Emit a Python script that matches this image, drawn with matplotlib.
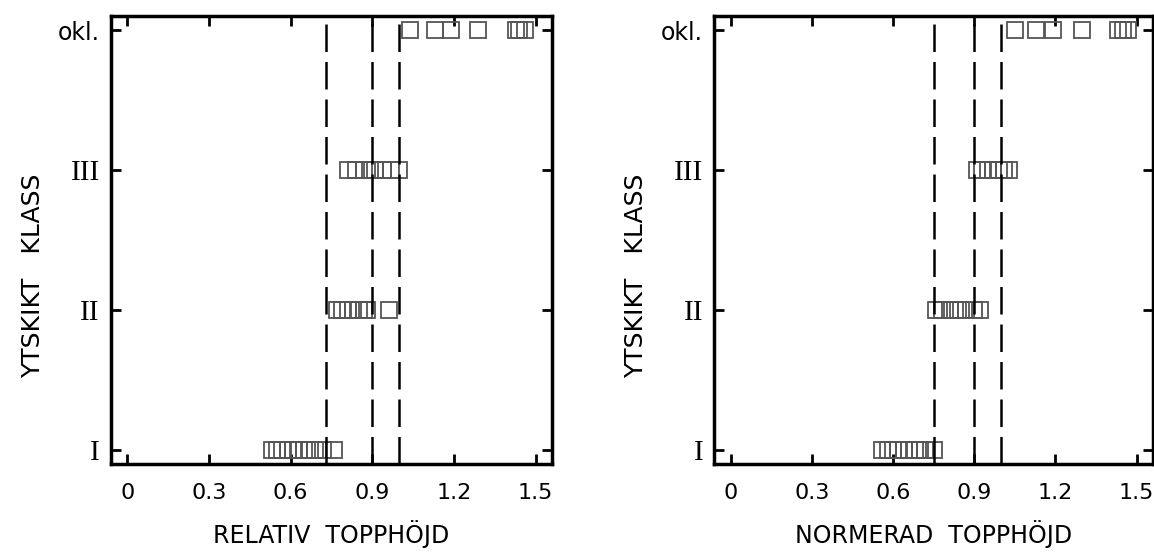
import matplotlib.pyplot as plt

# ── DATA ──────────────────────────────────────────────────────────────────────
klass_labels = ['I', 'II', 'III', 'okl.']

# relativ topphöjd per ytskiktklass
rel_I = [0.53, 0.55, 0.57, 0.59, 0.61, 0.63, 0.65, 0.67, 0.69, 0.72, 0.76]
rel_II = [0.77, 0.79, 0.81, 0.83, 0.85, 0.87, 0.88, 0.96]
rel_III = [0.81, 0.84, 0.87, 0.89, 0.91, 0.94, 0.97, 1.00]
rel_okl = [1.04, 1.13, 1.19, 1.29, 1.43, 1.44, 1.46]
rel_lines = [0.73, 0.90, 1.00]

# normerad topphöjd per ytskiktklass
norm_I = [0.56, 0.58, 0.60, 0.62, 0.64, 0.66, 0.68, 0.70, 0.72, 0.75]
norm_II = [0.76, 0.78, 0.81, 0.83, 0.85, 0.87, 0.90, 0.92]
norm_III = [0.91, 0.93, 0.95, 0.97, 0.99, 1.01, 1.03]
norm_okl = [1.05, 1.13, 1.19, 1.30, 1.43, 1.45, 1.47]
norm_lines = [0.75, 0.90, 1.00]

xticks = [0, 0.3, 0.6, 0.9, 1.2, 1.5]
xtick_labels = ['0', '0.3', '0.6', '0.9', '1.2', '1.5']

plt.rcParams['font.family'] = ['DejaVu Sans']

fig = plt.figure(figsize=(11.54, 5.55), dpi=100)
ax1 = fig.add_axes([0.0962, 0.164, 0.382, 0.807])
ax2 = fig.add_axes([0.619, 0.164, 0.38, 0.807])


def panel(ax, groups, lines, xlabel):
    for lvl, vals in enumerate(groups):
        ax.plot(vals, [lvl] * len(vals), linestyle='none', marker='s',
                markersize=11.5, markerfacecolor='none',
                markeredgecolor='#555555', markeredgewidth=1.3)
    for v in lines:
        ax.axvline(v, color='black', lw=1.8, dashes=(11, 4))
    ax.set_xlim(-0.06, 1.56)
    ax.set_ylim(-0.1, 3.1)
    ax.set_xticks(xticks)
    ax.set_xticklabels(xtick_labels, fontsize=16)
    ax.set_yticks(range(4))
    ax.set_yticklabels(klass_labels, fontsize=17)
    for lab in ax.get_yticklabels()[:3]:
        lab.set_family('Liberation Serif')
        lab.set_fontsize(21)
    ax.tick_params(axis='x', pad=14)
    ax.tick_params(axis='y', pad=8)
    ax.tick_params(direction='in', length=7, width=2, top=True, right=True)
    for s in ax.spines.values():
        s.set_linewidth(2.5)
    ax.set_xlabel(xlabel, fontsize=17, labelpad=12)
    ax.set_ylabel('YTSKIKT   KLASS', fontsize=18)
    ax.yaxis.set_label_coords(-0.15, 0.42)


panel(ax1, [rel_I, rel_II, rel_III, rel_okl], rel_lines, 'RELATIV  TOPPHÖJD')
panel(ax2, [norm_I, norm_II, norm_III, norm_okl], norm_lines, 'NORMERAD  TOPPHÖJD')

plt.savefig('out.png', dpi=100)
